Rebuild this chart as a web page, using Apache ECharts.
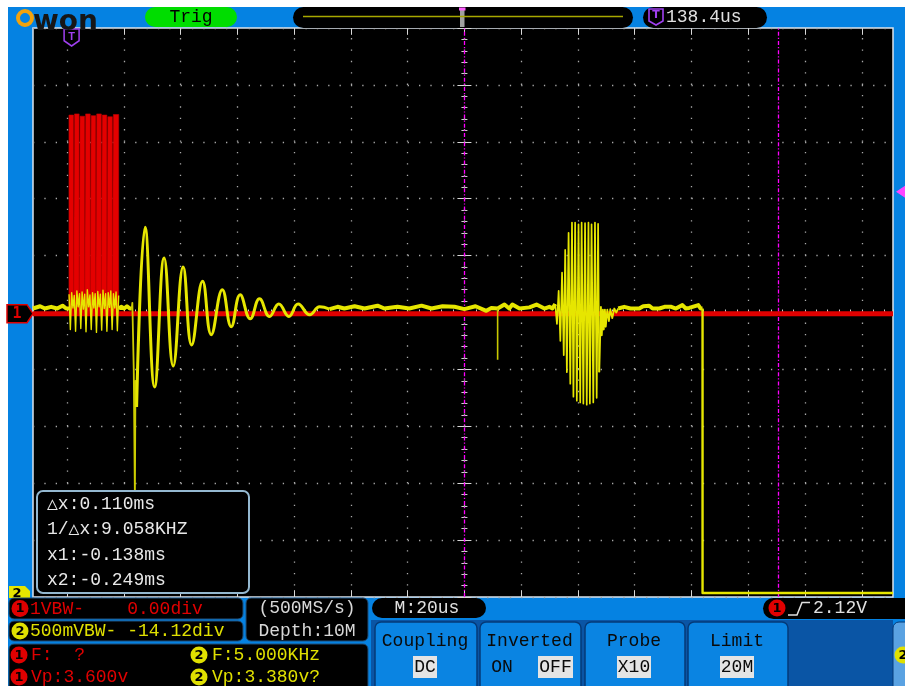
<!DOCTYPE html>
<html><head><meta charset="utf-8">
<style>html,body{margin:0;padding:0;background:#fff;}#c{width:905px;height:686px;}</style>
<script src="https://cdn.jsdelivr.net/npm/echarts@6.0.0/dist/echarts.min.js"></script>
</head><body><div id="c"></div>
<script>
// x: time in microseconds from the screen centre (20 us/div); y: amplitude in divisions
const timeRange = [-152, 151];
const divTimes = [-140,-120,-100,-80,-60,-40,-20,0,20,40,60,80,100,120,140];
const cursorTimes = [0, 110.5];
const triggerTime = -138.4;
const triggerLevel = 2.12;
const ch1Offset = -0.02;

const ch1Base = [[-152,-0.02],[151,-0.02]];
const ch1Burst = [
 [-139.33,-0.02],[-139.33,3.47],[-137.71,3.47],[-137.71,-0.02],
 [-137.37,-0.02],[-137.37,3.49],[-135.75,3.49],[-135.75,-0.02],
 [-135.42,-0.02],[-135.42,3.45],[-133.80,3.45],[-133.80,-0.02],
 [-133.46,-0.02],[-133.46,3.49],[-131.84,3.49],[-131.84,-0.02],
 [-131.51,-0.02],[-131.51,3.46],[-129.89,3.46],[-129.89,-0.02],
 [-129.55,-0.02],[-129.55,3.49],[-127.93,3.49],[-127.93,-0.02],
 [-127.60,-0.02],[-127.60,3.47],[-125.98,3.47],[-125.98,-0.02],
 [-125.65,-0.02],[-125.65,3.44],[-124.03,3.44],[-124.03,-0.02],
 [-123.69,-0.02],[-123.69,3.48],[-121.80,3.48],[-121.80,-0.02]
];

const ch2Lead = [[-152,0.07],[-149.5,0.11],[-147.8,0.07],[-145.6,0.1],[-143.5,0.07],[-141.6,0.12],[-140.3,0.07],[-139.3,0.07]];
const ch2Burst1 = [
 [-139.3,0.32],[-138.84,-0.3],[-138.38,0.35],[-137.92,0.08],[-137.46,0.3],[-137.0,-0.33],[-136.54,0.38],[-136.08,0.1],
 [-135.62,0.33],[-135.16,-0.28],[-134.7,0.36],[-134.24,0.06],[-133.78,0.32],[-133.32,-0.34],[-132.86,0.4],[-132.4,0.1],
 [-131.94,0.31],[-131.48,-0.3],[-131.02,0.35],[-130.56,0.08],[-130.1,0.33],[-129.64,-0.35],[-129.18,0.37],[-128.72,0.1],
 [-128.26,0.32],[-127.8,-0.31],[-127.34,0.39],[-126.88,0.07],[-126.42,0.33],[-125.96,-0.33],[-125.5,0.35],[-125.04,0.09],
 [-124.58,0.38],[-124.12,-0.3],[-123.66,0.33],[-123.2,0.08],[-122.74,0.36],[-122.28,-0.32],[-121.82,0.3]
];
const ch2Gap = [[-121.82,0.07],[-120.8,0.1],[-119.9,0.07],[-118.9,0.11],[-117.9,0.07],[-117.2,0.07]];
const ch2Kick = [[-117.2,0.07],[-117.0,0.17],[-116.5,-1.0],[-116.1,-3.25],[-115.9,-1.2],[-115.5,-1.66]];
const ch2Ring = [
 [-115.5,-1.66],[-112.5,1.5],[-109.15,-1.31],[-105.8,0.96],[-102.6,-0.94],[-99.1,0.8],[-96.1,-0.57],
 [-92.25,0.55],[-89.2,-0.39],[-85.3,0.4],[-82.15,-0.25],[-79.0,0.31],[-75.45,-0.11],[-72.2,0.24],
 [-68.65,-0.07],[-65.4,0.15],[-61.85,-0.07],[-58.6,0.15],[-54.5,-0.04],[-51.0,0.1],[-47.5,0.06]
];
const ch2Mid = [
 [-47.5,0.06],[-44.7,0.1],[-42.3,0.07],[-38.7,0.11],[-35.2,0.07],[-30.6,0.12],[-28.2,0.07],[-23.6,0.1],
 [-19.4,0.07],[-15.1,0.12],[-11.6,0.07],[-7.7,0.11],[-3.5,0.1],[0,0.06],[3.9,0.11],[7.7,0.03],[9.5,0.08],
 [11.7,0.07],[14.1,0.14],[15.8,0.07],[16.9,0.14],[19.4,0.07],[22.9,0.09],[25.4,0.14],[28.2,0.07],
 [29.9,0.1],[31.0,0.07],[32.0,0.15]
];
const ch2Glitch = [[11.7,0.07],[11.7,-0.83]];
const ch2Burst2 = [
 [32.0,0.15],[32.6,-0.2],[33.2,0.38],[33.8,-0.5],[34.4,0.7],[35.0,-0.75],[35.5,1.1],[36.1,-1.05],
 [36.7,1.4],[37.3,-1.25],[37.9,1.58],[38.4,-1.48],[39.0,1.58],[39.6,-1.55],[40.2,1.55],[40.8,-1.58],
 [41.3,1.58],[41.9,-1.6],[42.5,1.57],[43.1,-1.62],[43.7,1.58],[44.2,-1.6],[44.8,1.55],[45.4,-1.58],
 [46.0,1.58],[46.6,-1.5],[47.1,1.56],[47.5,-1.05]
];
const ch2Settle = [[47.5,-1.05],[48.1,0.1],[48.4,-0.4],[48.8,0.05],[49.1,-0.3],[49.5,0.05],[49.8,-0.25],
 [50.35,0.05],[50.9,-0.15],[51.4,0.06],[52.1,-0.1],[52.8,0.07],[53.5,0.0],[54.2,0.07]];
const ch2Tail = [[54.2,0.07],[56.3,0.1],[58.5,0.07],[61.6,0.07],[63.0,0.11],[65.1,0.12],[66.3,0.07],[68.7,0.07],
 [70.5,0.1],[72.9,0.1],[74.5,0.07],[76.8,0.13],[78.0,0.07],[79.2,0.08],[82.4,0.13],[83.2,0.07],[83.9,0.07]];
const ch2Drop = [[83.9,0.07],[83.9,-4.93],[151,-4.93]];

const cursorLines = ['\u25B3x:0.110ms', '1/\u25B3x:9.058KHZ', 'x1:-0.138ms', 'x2:-0.249ms'];

const RED = '#e00000', YEL = '#e6e600';
const gridH = 569, gridW = 860;
const hPeriod = gridW / (timeRange[1] - timeRange[0]) * 4;
const vPeriod = gridH / 50;

function trace(name, data, color, width, extra) {
  return Object.assign({name, type:'line', data, xAxisIndex:0, yAxisIndex:0, showSymbol:false, symbol:'none',
    silent:true, animation:false, z:3, lineStyle:{color, width, join:'round'}}, extra || {});
}

const markData = [];
divTimes.forEach(t => markData.push({xAxis:t, lineStyle:{color:'#a9a9a9', width:1.3, type:[1.3, vPeriod-1.3]}}));
divTimes.forEach(t => {
  markData.push([{coord:[t,5]},{coord:[t,4.88]}]);
  markData.push([{coord:[t,-5]},{coord:[t,-4.88]}]);
});
cursorTimes.forEach(t => markData.push({xAxis:t, lineStyle:{color:'#ff00ff', width:1.3, type:[4,2,1.2,2]}}));

const xBase = {type:'value', min:timeRange[0], max:timeRange[1], interval:4,
  axisLine:{show:false}, axisLabel:{show:false}, splitLine:{show:false},
  axisTick:{show:true, inside:true, length:3, lineStyle:{color:'#cfcfcf', width:1}}};
const yBase = {type:'value', min:-5, max:5, interval:1, axisLine:{show:false}, axisLabel:{show:false},
  axisTick:{show:true, inside:true, length:7, lineStyle:{color:'#d8d8d8', width:1}},
  minorTick:{show:true, splitNumber:5, length:3, lineStyle:{color:'#cfcfcf', width:1}}};

const option = {
  animation:false,
  backgroundColor:'#0582e2',
  grid:{left:33, top:28, width:gridW, height:gridH, show:true, backgroundColor:'#000', borderColor:'#dce4ec', borderWidth:1.5},
  xAxis:[Object.assign({position:'bottom'}, xBase), Object.assign({position:'top'}, xBase)],
  yAxis:[
    Object.assign({position:'left', splitLine:{show:true, lineStyle:{color:'#a9a9a9', width:1.3, type:[1.3, hPeriod-1.3]}}}, yBase),
    Object.assign({position:'right', splitLine:{show:false}}, yBase)
  ],
  series:[
    trace('CH1', ch1Base, RED, 5, {z:2, markLine:{silent:true, z:1, animation:false, symbol:['none','none'],
      label:{show:false}, emphasis:{disabled:true}, lineStyle:{color:'#d8d8d8', width:1, type:'solid'}, data:markData}}),
    trace('CH1 burst', ch1Burst, '#c00000', 0.6, {z:2, areaStyle:{color:'#e40000', opacity:1},
      markPoint:{silent:true, animation:false, data:[{coord:[triggerTime,5], symbol:'path://M0,0L14,0L14,11L7,16L0,11Z',
        symbolSize:[15,17], symbolOffset:[0,9.5], itemStyle:{color:'#000', borderColor:'#a040f0', borderWidth:1.6},
        label:{show:true, formatter:'T', color:'#a040f0', fontSize:11, fontWeight:'bold', offset:[0,-1]}}]}}),
    trace('CH2 lead', ch2Lead, YEL, 4),
    trace('CH2 burst', ch2Burst1, YEL, 1.4),
    trace('CH2 gap', ch2Gap, YEL, 4),
    trace('CH2 kick', ch2Kick, '#cccc00', 1.8),
    trace('CH2 ring', ch2Ring, YEL, 3, {smooth:0.45}),
    trace('CH2 mid', ch2Mid, YEL, 4),
    trace('CH2 glitch', ch2Glitch, '#c8c800', 1.6),
    trace('CH2 burst 2', ch2Burst2, YEL, 1.7),
    trace('CH2 settle', ch2Settle, YEL, 1.8),
    trace('CH2 tail', ch2Tail, YEL, 4),
    trace('CH2 drop', ch2Drop, YEL, 2.4)
  ]
};

const chart = echarts.init(document.getElementById('c'), null, {renderer:'canvas'});
chart.setOption(option);

const MONO = '"Liberation Mono", "DejaVu Sans Mono", monospace';
function rect(x,y,w,h,fill,r,stroke,lw){return {type:'rect', shape:{x,y,width:w,height:h,r:r||0}, style:{fill, stroke:stroke||null, lineWidth:lw||0}, z:100, silent:true};}
function txt(x,y,s,fill,size,align,weight,fam){
  const a = align || 'left';
  return {type:'text', x, y, z:101, silent:true, style:{text:s, fill, font:(weight||'normal')+' '+(size||18)+'px '+(fam||MONO),
    textAlign:a, textVerticalAlign:'middle', align:a, verticalAlign:'middle'}};
}
function poly(points, fill, stroke, lw){return {type:'polygon', shape:{points}, style:{fill, stroke:stroke||null, lineWidth:lw||0}, z:100, silent:true};}
function badge(cx, cy, color, label){
  return [{type:'circle', shape:{cx, cy, r:8.5}, style:{fill:color}, z:100, silent:true},
          txt(cx, cy+0.5, label, '#000', 13, 'center', 'bold', '"DejaVu Sans", sans-serif')];
}

const ch1Y = chart.convertToPixel({xAxisIndex:0, yAxisIndex:0}, [timeRange[0], ch1Offset])[1];
const trigY = chart.convertToPixel({xAxisIndex:0, yAxisIndex:0}, [timeRange[1], triggerLevel])[1];

const g = [];
// margins
g.push(rect(0,0,905,7,'#ffffff'));
g.push(rect(0,0,8,686,'#ffffff'));
// logo
g.push({type:'circle', shape:{cx:25, cy:18, r:7}, style:{fill:null, stroke:'#f2a20c', lineWidth:4}, z:100, silent:true});
g.push(txt(33, 22.5, 'won', '#161616', 28, 'left', 'bold', '"DejaVu Sans", sans-serif'));
// Trig pill
g.push(rect(145,7,92,20,'#00dd00',10));
g.push(txt(191,17.5,'Trig','#000',18,'center'));
// timeline pill
g.push(rect(293,7,340,21,'#000',10.5));
g.push({type:'line', shape:{x1:303,y1:16.5,x2:623,y2:16.5}, style:{stroke:'#a8a800', lineWidth:1.5}, z:101, silent:true});
g.push(rect(460,8,4.5,19,'#a0a0a0'));
g.push(rect(459,7.5,6.5,3,'#ff60ff'));
// trigger offset pill
g.push(rect(643,7,124,21,'#000',10.5));
g.push(poly([[649,9],[663,9],[663,21],[656,25],[649,21]],'#000','#a040f0',1.6));
g.push(txt(656,15.5,'T','#a040f0',11,'center','bold','"DejaVu Sans", sans-serif'));
g.push(txt(666,17.5,'138.4us','#e0e0e0',18));
// channel markers
g.push(poly([[7,ch1Y-9],[27,ch1Y-9],[33,ch1Y],[27,ch1Y+9],[7,ch1Y+9]],'#000',RED,1.5));
g.push(txt(17,ch1Y+0.5,'1',RED,15,'center','bold','"DejaVu Sans Mono", monospace'));
g.push(poly([[896,trigY],[905,trigY-6],[905,trigY+6]],'#ff44ff'));
g.push(poly([[9,586],[25,586],[30,591],[30,598],[9,598]],'#e6e600'));
g.push(txt(17,594,'2','#000',13,'center','bold','"DejaVu Sans", sans-serif'));
// cursor readout
g.push(rect(37,491,212,102,'#000',6,'#94b8d0',2));
[504,529.5,555.5,580.5].forEach((y,i)=>g.push(txt(47,y,cursorLines[i],'#e8e8e8',18)));
// status boxes
g.push(rect(9,598,234,21,'#000',5,'#1f4f7a',1));
g.push(...badge(20,608.5,RED,'1'));
g.push(txt(30,609,'1VBW-    0.00div',RED,18));
g.push(rect(9,621,234,20,'#000',5,'#1f4f7a',1));
g.push(...badge(20,631,'#e0e000','2'));
g.push(txt(30,631.5,'500mVBW- -14.12div','#e0e000',18));
g.push(rect(246,598,122,43,'#000',5,'#1f4f7a',1));
g.push(txt(307,608.5,'(500MS/s)','#d8d8d8',18,'center'));
g.push(txt(307,631,'Depth:10M','#d8d8d8',18,'center'));
g.push(rect(9,644,359,48,'#000',5,'#1f4f7a',1));
g.push(...badge(19,655,RED,'1'));
g.push(txt(31,655.5,'F:  ?',RED,18));
g.push(...badge(199,655,'#e0e000','2'));
g.push(txt(212,655.5,'F:5.000KHz','#e0e000',18));
g.push(...badge(19,677,RED,'1'));
g.push(txt(31,677.5,'Vp:3.600v',RED,18));
g.push(...badge(199,677,'#e0e000','2'));
g.push(txt(212,677.5,'Vp:3.380v?','#e0e000',18));
// timebase pill
g.push(rect(372,598,114,20,'#000',10));
g.push(txt(427,608.5,'M:20us','#e0e0e0',18,'center'));
// trigger pill
g.push(rect(763,598,150,21,'#000',[10.5,0,0,10.5]));
g.push(...badge(777,608,RED,'1'));
g.push({type:'polyline', shape:{points:[[788,615],[797,615],[802,602.5],[810,602.5]]}, style:{stroke:'#e0e0e0', lineWidth:1.5, fill:null}, z:101, silent:true});
g.push(txt(813,608.5,'2.12V','#e0e0e0',18));
// menu
g.push(rect(371,620,522,70,'#0a55a5'));
const buttons = [[375,102,'Coupling'],[480,101,'Inverted'],[585,100,'Probe'],[688,100,'Limit']];
buttons.forEach(b => { g.push(rect(b[0],622,b[1],70,'#0a84e2',6,'#043a78',1.5)); g.push(txt(b[0]+b[1]/2-1,641,b[2],'#0a0a0a',18,'center')); });
const valBoxes = [[413,24,'DC'],[538,35,'OFF'],[617,34,'X10'],[720,34,'20M']];
valBoxes.forEach(v => { g.push(rect(v[0],656,v[1],22,'#e4e4e4')); g.push(txt(v[0]+v[1]/2,667.5,v[2],'#0a0a0a',18,'center')); });
g.push(txt(502,667.5,'ON','#0a0a0a',18,'center'));
g.push(rect(893,622,20,70,'#5aa2e2',6,'#043a78',1));
g.push(...badge(903,655,'#e0e000','2'));

chart.setOption({graphic:g});
</script>
</body></html>
